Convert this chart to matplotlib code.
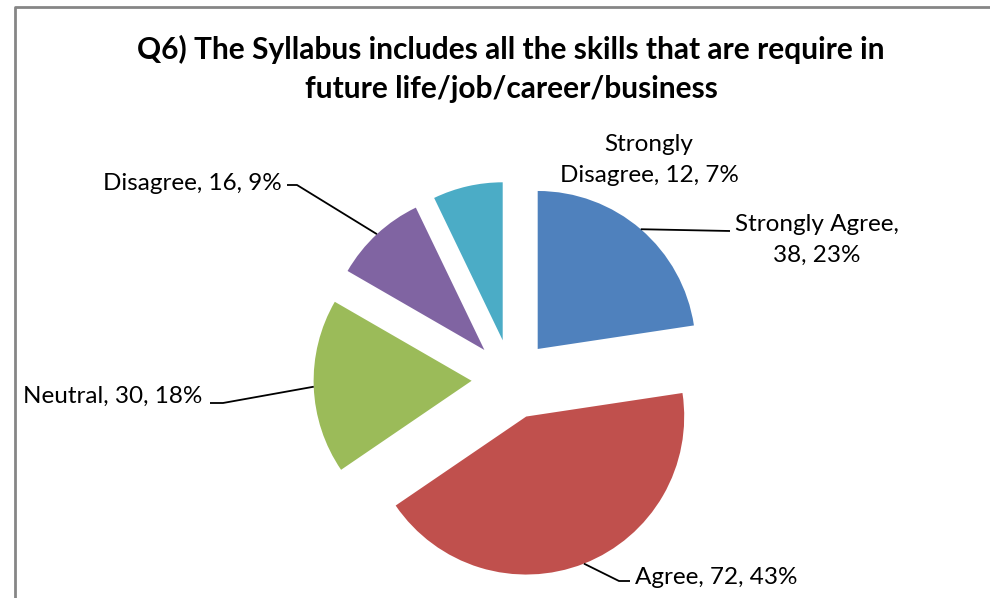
import matplotlib.pyplot as plt
import numpy as np

plt.rcParams['font.family'] = ['Lato', 'DejaVu Sans']

# data
categories = ["Strongly Agree", "Agree", "Neutral", "Disagree", "Strongly Disagree"]
counts = [38, 72, 30, 16, 12]
percents = [23, 43, 18, 9, 7]
colors = ["#4F81BD", "#C0504D", "#9BBB59", "#8064A2", "#4BACC6"]
title = ("Q6) The Syllabus includes all the skills that are require in\n"
         "future life/job/career/business")

# layout, in pixels (y measured from the top of the image)
W, H = 990, 598
center_px = (511.6, 379.3)
radius = 158
explode_px = 40
# where each label line breaks (text before the break)
wraps = ["Strongly Agree,", None, None, None, "Strongly"]
label_pos = [(817, 240, 'center'), (635, 577, 'left'), (202, 396, 'right'),
             (282, 183, 'right'), (649, 160, 'center')]
leaders = [[(730, 231)], [(619, 581), (630, 581)], [(223, 403), (210, 403)],
           [(297, 185), (287, 185)], None]


def fy(y):
    return H - y


fig = plt.figure(figsize=(W / 100, H / 100), dpi=100)
ax = fig.add_axes([0, 0, 1, 1])

cx, cy = center_px[0], fy(center_px[1])
# pie explode is in data units here (radius is in pixels)
ax.pie(counts, colors=colors, startangle=90, counterclock=False,
       explode=[explode_px] * len(counts), radius=radius,
       center=(cx, cy), wedgeprops=dict(linewidth=0), frame=True)

# labels and leader lines
total = sum(counts)
start = 0.0
for i, (name, c, p) in enumerate(zip(categories, counts, percents)):
    frac = c / total
    mid = np.deg2rad(90 - 360 * (start + frac / 2))
    start += frac
    text = f"{name}, {c}, {p}%"
    if wraps[i]:
        text = text.replace(wraps[i] + " ", wraps[i] + "\n", 1)
    tx, ty, ha = label_pos[i]
    ax.text(tx, fy(ty), text, ha=ha, va='center', fontsize=17.5,
            color='black', linespacing=1.6, multialignment='center')
    if leaders[i]:
        # arc point at mid angle of the exploded slice
        ox = cx + (explode_px + radius) * np.cos(mid)
        oy = cy + (explode_px + radius) * np.sin(mid)
        xs = [ox] + [q[0] for q in leaders[i]]
        ys = [oy] + [fy(q[1]) for q in leaders[i]]
        ax.plot(xs, ys, color='black', lw=1.3, solid_capstyle='butt')

ax.text(511, fy(69), title, ha='center', va='center', fontsize=21.5,
        fontweight='bold', linespacing=1.45)

# chart area border (left and top edges visible)
ax.plot([15, 15, W + 5], [fy(H + 5), fy(7), fy(7)], color='#868686', lw=2)

ax.set_xlim(0, W)
ax.set_ylim(0, H)
ax.set_aspect('equal')
ax.axis('off')

fig.savefig("out.png", dpi=100)
